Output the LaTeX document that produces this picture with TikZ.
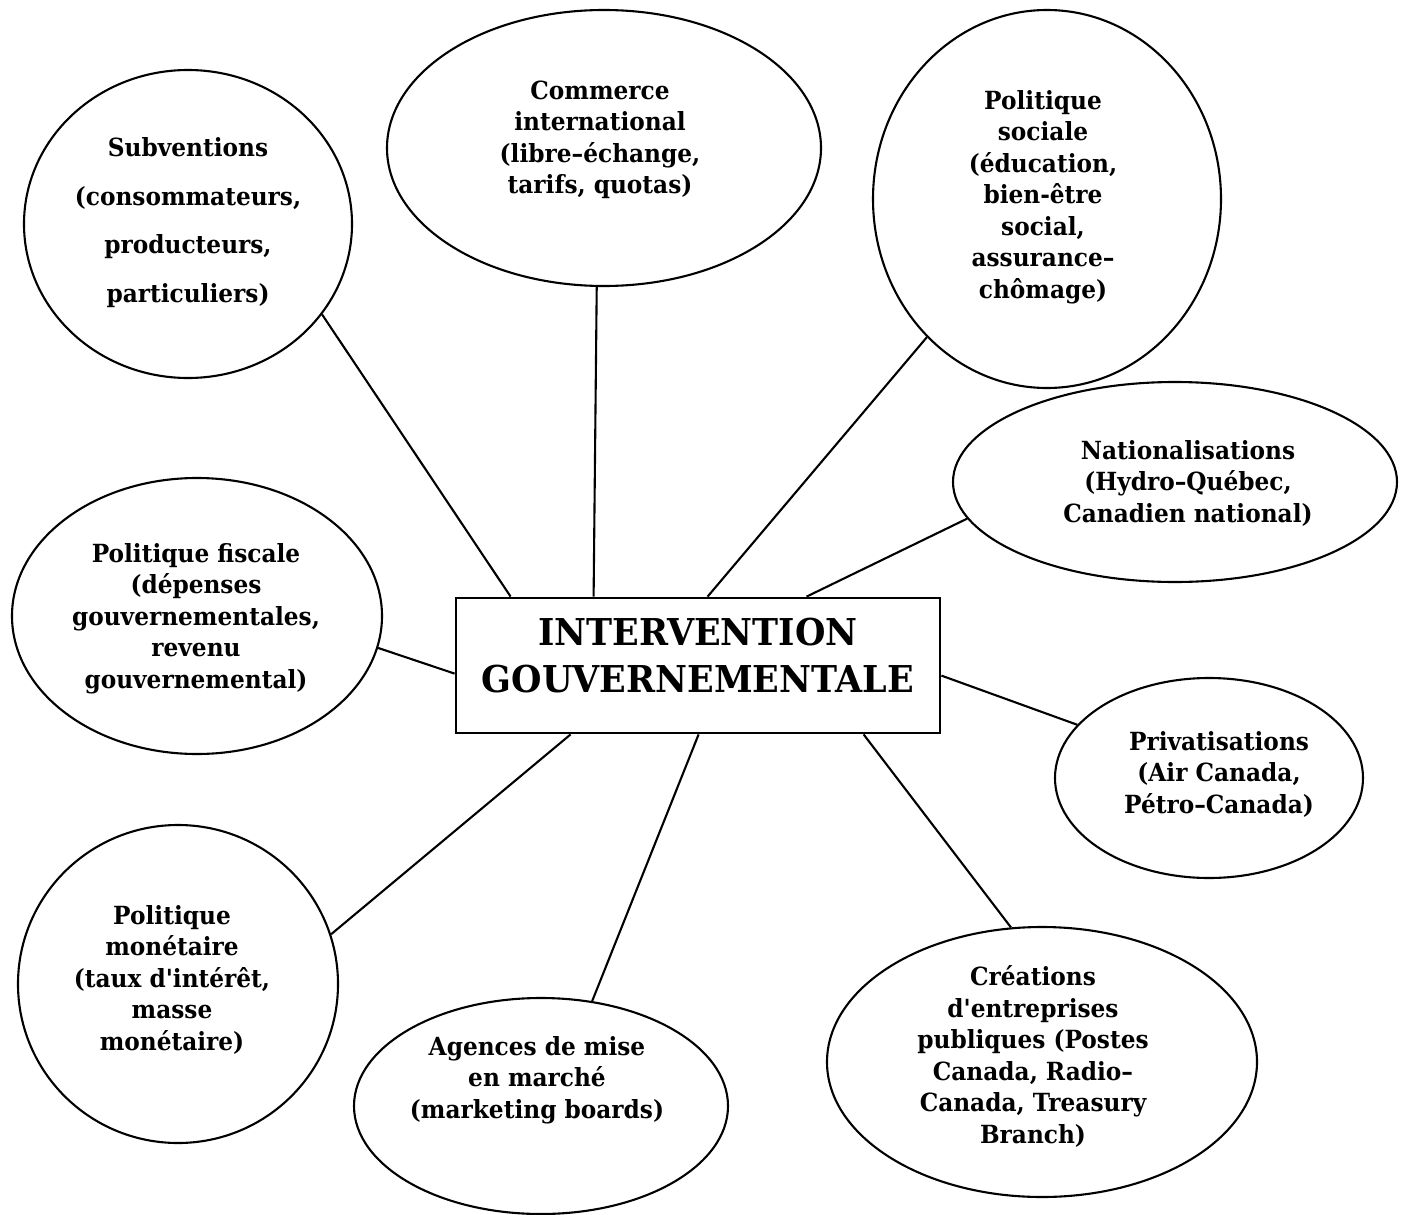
\documentclass[tikz,border=0pt]{standalone}
\usepackage{fontspec}
\setmainfont{DejaVu Serif}
\newfontfamily\lblfont{DejaVu Serif}[FakeStretch=0.93]
\newfontfamily\titlefont{DejaVu Serif}[FakeStretch=0.945]
\usetikzlibrary{shapes.geometric}

\begin{document}
\begin{tikzpicture}[x=1pt, y=-1pt,
  bubble/.style={draw, ellipse, line width=2.1pt, inner sep=0pt},
  lbl/.style={align=center, anchor=base, inner sep=0pt,
    font=\lblfont\bfseries\fontsize{25}{31.5}\selectfont},
  widelbl/.style={lbl, font=\lblfont\bfseries\fontsize{25}{48.5}\selectfont},
  hub/.style={draw, line width=2.8pt, inner sep=0pt,
    minimum width=484pt, minimum height=135pt},
  hubtext/.style={align=center, anchor=base, inner sep=0pt,
    font=\titlefont\bfseries\fontsize{37}{47}\selectfont},
  link/.style={line width=2.1pt}]

\useasboundingbox (0,0) rectangle (1406,1215);

% central box
\node[hub] (box) at (698,665.5) {};
\node[hubtext] (boxtxt) at (698,692) {INTERVENTION\\GOUVERNEMENTALE};

% surrounding ellipses
\node[bubble, minimum width=328pt, minimum height=308pt] (sub) at (188,224) {};
\node[bubble, minimum width=434pt, minimum height=276pt] (com) at (604,148) {};
\node[bubble, minimum width=348pt, minimum height=378pt] (soc) at (1047,199) {};
\node[bubble, minimum width=444pt, minimum height=200pt] (nat) at (1175,482) {};
\node[bubble, minimum width=370pt, minimum height=276pt] (fis) at (197,616) {};
\node[bubble, minimum width=308pt, minimum height=200pt] (pri) at (1209,778) {};
\node[bubble, minimum width=320pt, minimum height=318pt] (mon) at (178,984) {};
\node[bubble, minimum width=374pt, minimum height=216pt] (age) at (541,1106) {};
\node[bubble, minimum width=430pt, minimum height=270pt] (cre) at (1042,1062) {};

% labels (each placed by the baseline of its last line)
\node[widelbl] (subtxt) at (188,302) {Subventions\\(consommateurs,\\producteurs,\\particuliers)};
\node[lbl] (comtxt) at (600,193.5) {Commerce\\international\\(libre–échange,\\tarifs, quotas)};
\node[lbl] (soctxt) at (1043,298) {Politique\\sociale\\(éducation,\\bien-être\\social,\\assurance–\\chômage)};
\node[lbl] (nattxt) at (1188,522) {Nationalisations\\(Hydro–Québec,\\Canadien national)};
\node[lbl] (fistxt) at (196,688) {Politique fiscale\\(dépenses\\gouvernementales,\\revenu\\gouvernemental)};
\node[lbl] (pritxt) at (1219,813) {Privatisations\\(Air Canada,\\Pétro–Canada)};
\node[lbl] (montxt) at (172,1050) {Politique\\monétaire\\(taux d'intérêt,\\masse\\monétaire)};
\node[lbl] (agetxt) at (537,1118) {Agences de mise\\en marché\\(marketing boards)};
\node[lbl] (cretxt) at (1033,1143) {Créations\\d'entreprises\\publiques (Postes\\Canada, Radio–\\Canada, Treasury\\Branch)};

% attachment points on the box
\coordinate (t1) at ([xshift=56pt]box.north west);
\coordinate (t2) at ([xshift=139pt]box.north west);
\coordinate (t3) at ([xshift=253pt]box.north west);
\coordinate (t4) at ([xshift=352pt]box.north west);
\coordinate (u1) at ([xshift=116pt]box.south west);
\coordinate (u2) at ([xshift=244pt]box.south west);
\coordinate (u3) at ([xshift=409pt]box.south west);
\coordinate (l1) at ([yshift=-77pt]box.north west);
\coordinate (r1) at ([yshift=-79pt]box.north east);

% connectors
\draw[link] (t1) -- (sub.-34.6);
\draw[link] (t2) -- (com.-93.7);
\draw[link] (t3) -- (soc.-131.2);
\draw[link] (t4) -- (nat.-170.75);
\draw[link] (l1) -- (fis.-10.6);
\draw[link] (r1) -- (pri.158);
\draw[link] (u1) -- (mon.18.5);
\draw[link] (u2) -- (age.64.7);
\draw[link] (u3) -- (cre.103.6);
\end{tikzpicture}
\end{document}
